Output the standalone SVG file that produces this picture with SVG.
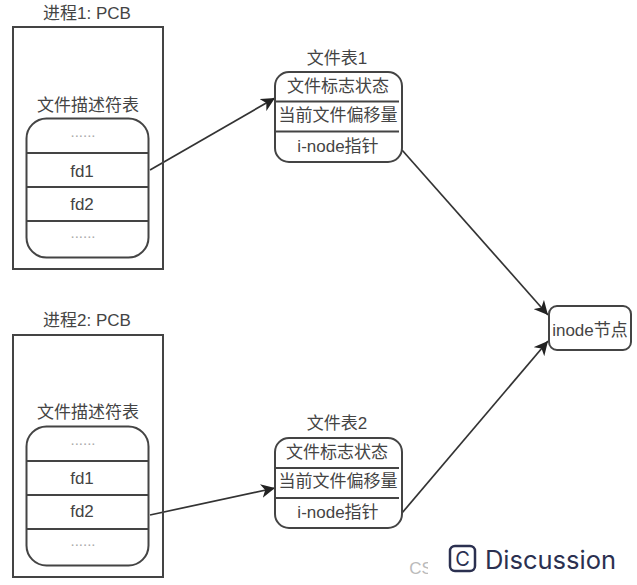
<svg xmlns="http://www.w3.org/2000/svg" width="637" height="585" viewBox="0 0 637 585">
<style>
text{font-family:"Liberation Sans","Noto Sans CJK SC",sans-serif;font-size:17px;fill:#444;text-anchor:middle}
.b{fill:none;stroke:#444;stroke-width:2}
.c{fill:none;stroke:#333;stroke-width:1.7}
.d{font-size:15px;fill:#aaa}
</style>
<defs><marker id="a" markerUnits="userSpaceOnUse" markerWidth="16" markerHeight="14" refX="14" refY="7" orient="auto"><path d="M0 0L14 7L0 14L4 7Z" fill="#222"/></marker></defs>
<rect width="637" height="585" fill="#fff"/>
<g id="connectors">
<path class="c" marker-end="url(#a)" d="M150 170L275 98"/>
<path class="c" marker-end="url(#a)" d="M402 150L548 315"/>
<path class="c" marker-end="url(#a)" d="M150 515L275 488"/>
<path class="c" marker-end="url(#a)" d="M402 513L548 341"/>
</g>
<g id="pcb1"><text x="87" y="19">进程1: PCB</text><rect class="b" x="13" y="27" width="150" height="242"/></g>
<g id="fdt1"><text x="88" y="111">文件描述符表</text><rect class="b" x="26.500" y="118.500" width="122" height="139" rx="20"/>
<path class="b" d="M27 153H148M27 187H148M27 221H148"/>
<text class="d" x="83" y="137">......</text><text x="82" y="177">fd1</text><text x="82" y="210">fd2</text><text class="d" x="83" y="238">......</text></g>
<g id="pcb2"><text x="87" y="326">进程2: PCB</text><rect class="b" x="13" y="335" width="150" height="242"/></g>
<g id="fdt2"><text x="88" y="418">文件描述符表</text><rect class="b" x="26.500" y="426.500" width="122" height="139" rx="20"/>
<path class="b" d="M27 461H148M27 495H148M27 529H148"/>
<text class="d" x="83" y="445">......</text><text x="82" y="484">fd1</text><text x="82" y="517">fd2</text><text class="d" x="83" y="546">......</text></g>
<g id="ft1"><text x="337" y="64">文件表1</text><rect class="b" x="275" y="72" width="127" height="90" rx="14"/>
<path class="b" d="M275 101.500H399M275 131.500H399"/>
<text x="338" y="92">文件标志状态</text><text x="338" y="121">当前文件偏移量</text><text x="338" y="152">i-node指针</text></g>
<g id="ft2"><text x="337" y="429">文件表2</text><rect class="b" x="275" y="438" width="127" height="90" rx="14"/>
<path class="b" d="M275 468H399M275 498H399"/>
<text x="337" y="458">文件标志状态</text><text x="338" y="487">当前文件偏移量</text><text x="338" y="518">i-node指针</text></g>
<g id="inode"><rect class="b" x="549" y="306" width="82" height="44" rx="8"/><text x="590" y="336">inode节点</text></g>
<g id="wm"><text x="421" y="574" style="font-size:17px;fill:#bbb">CS</text><rect x="428" y="555" width="20" height="26" fill="#fff"/>
<rect x="450" y="546" width="25" height="25" rx="5" fill="none" stroke="#2b3050" stroke-width="2.500"/><text x="462.500" y="566" style="font-size:20px;fill:#2b3050;font-family:Inter,sans-serif">C</text>
<text x="550.500" y="569" style="font-size:25.500px;fill:#2b3050;font-family:Inter,sans-serif">Discussion</text></g>
</svg>
